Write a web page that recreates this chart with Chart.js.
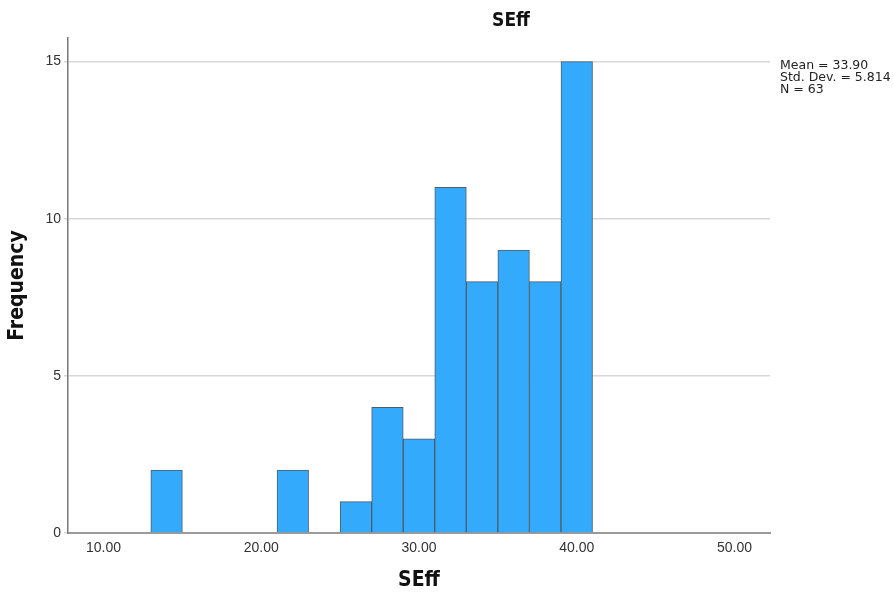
<!DOCTYPE html>
<html>
<head>
<meta charset="utf-8">
<script src="https://cdn.jsdelivr.net/npm/chart.js@4"></script>
<style>
html,body{margin:0;padding:0;background:#fff;}
#wrap{width:894px;height:596px;position:relative;}
</style>
</head>
<body>
<div id="wrap"><canvas id="c" width="894" height="596"></canvas></div>
<script>
const binCenters = [14, 22, 26, 28, 30, 32, 34, 36, 38, 40];
const frequencies = [2, 2, 1, 4, 3, 11, 8, 9, 8, 15];
const xTickValues = [10, 20, 30, 40, 50];
const yTickValues = [0, 5, 10, 15];
const chartTitle = "SEff";
const xTitle = "SEff";
const yTitle = "Frequency";
const statsLines = ["Mean = 33.90", "Std. Dev. = 5.814", "N = 63"];

const points = binCenters.map((x, i) => ({x: x, y: frequencies[i]}));
const titleFamily = '"DejaVu Sans Condensed", "Liberation Sans Narrow", "Liberation Sans", sans-serif';
const tickFamily = '"Liberation Sans", Arial, sans-serif';

const textPlugin = {
  id: 'texts',
  afterDraw(chart) {
    const ctx = chart.ctx;
    ctx.save();
    ctx.fillStyle = '#111';
    ctx.font = 'bold 19px ' + titleFamily;
    ctx.textAlign = 'center';
    ctx.textBaseline = 'middle';
    ctx.fillText(chartTitle, 511, 21);
    ctx.font = '12.5px "DejaVu Sans", sans-serif';
    ctx.textAlign = 'left';
    ctx.fillStyle = '#222';
    statsLines.forEach((t, i) => ctx.fillText(t, 780, 66 + i * 12));
    ctx.restore();
  }
};

new Chart(document.getElementById('c'), {
  type: 'bar',
  data: {
    datasets: [{
      data: points,
      backgroundColor: '#33aafc',
      borderColor: '#4f5d69',
      borderWidth: 1,
      barPercentage: 1,
      categoryPercentage: 1
    }]
  },
  options: {
    responsive: false,
    animation: false,
    layout: {padding: {left: 0, right: 124, top: 38, bottom: 0}},
    plugins: {legend: {display: false}, tooltip: {enabled: false}, title: {display: false}},
    scales: {
      x: {
        type: 'linear',
        min: 7.75,
        max: 52.25,
        offset: false,
        afterBuildTicks(scale) { scale.ticks = xTickValues.map(v => ({value: v})); },
        ticks: {
          callback: v => Number(v).toFixed(2),
          color: '#333',
          font: {family: tickFamily, size: 14},
          padding: 7,
          maxRotation: 0
        },
        grid: {display: false, drawTicks: false},
        border: {display: true, color: '#9a9a9a', width: 2},
        title: {display: true, text: xTitle, color: '#111',
          font: {family: titleFamily, size: 21, weight: 'bold'},
          padding: {top: 4, bottom: 3}},
        afterFit(scale) { scale.height = 63; }
      },
      y: {
        min: 0,
        max: 15.75,
        afterBuildTicks(scale) { scale.ticks = yTickValues.map(v => ({value: v})); },
        ticks: {
          color: '#333',
          font: {family: tickFamily, size: 14},
          padding: 3
        },
        grid: {color: '#d8d8d8', lineWidth: 1.5, tickLength: 4, drawTicks: true},
        border: {display: true, color: '#777', width: 1.5},
        title: {display: true, text: yTitle, color: '#111',
          font: {family: titleFamily, size: 21, weight: 'bold'},
          padding: {top: 5, bottom: 0}},
        afterFit(scale) { scale.width = 68; }
      }
    }
  },
  plugins: [textPlugin]
});
</script>
</body>
</html>
